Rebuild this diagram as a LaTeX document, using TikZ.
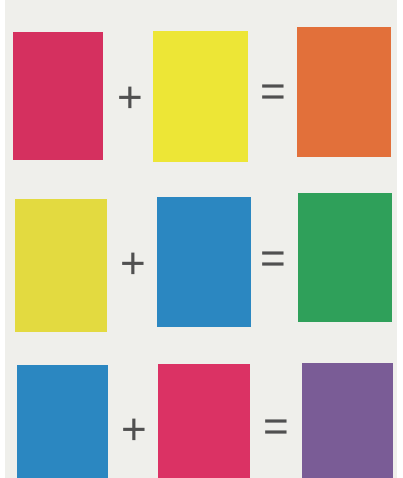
\documentclass[tikz,border=0pt]{standalone}
\usepackage{fontspec}
\setmainfont{Liberation Sans}
\usepackage{xcolor}
\usetikzlibrary{positioning}

\definecolor{paper}{HTML}{EFEFEB}
\definecolor{inkgray}{HTML}{505050}
\definecolor{mixred}{HTML}{D5305F}
\definecolor{mixredb}{HTML}{DB3264}
\definecolor{mixyellow}{HTML}{EDE636}
\definecolor{mixyellowb}{HTML}{E3DA40}
\definecolor{mixorange}{HTML}{E2703A}
\definecolor{mixblue}{HTML}{2B87C1}
\definecolor{mixgreen}{HTML}{2FA05A}
\definecolor{mixpurple}{HTML}{7A5C96}

\tikzset{
  sign/.style={font=\fontsize{44}{44}\selectfont, text=inkgray, inner sep=0pt}
}

\begin{document}
\begin{tikzpicture}[x=1pt,y=-1pt]
    \useasboundingbox (0,0) rectangle (402,478);
    \fill[white] (0,0) rectangle (402,478);
    \fill[paper] (5,0) rectangle (397,478);
    % swatches: left x / top y / right x / bottom y / colour
    \foreach \xa/\ya/\xb/\yb/\col in {13/32/103/160/mixred, 153/31/248/162/mixyellow, 297/27/391/157/mixorange,
      15/199/107/332/mixyellowb, 157/197/251/327/mixblue, 298/193/392/322/mixgreen,
      17/365/108/478/mixblue, 158/364/250/478/mixredb, 302/363/393/478/mixpurple} {
      \fill[\col] (\xa,\ya) rectangle (\xb,\yb);
    }
    % plus and equals signs of each row
    \foreach \i/\px/\py/\ex/\ey in {1/130/100/273/96, 2/133/266/273/263, 3/134/432/276/431} {
      \node[sign] (plus\i) at (\px,\py) {+};
      \node[sign] (eq\i) at (\ex,\ey) {=};
    }
  \end{tikzpicture}
\end{document}
